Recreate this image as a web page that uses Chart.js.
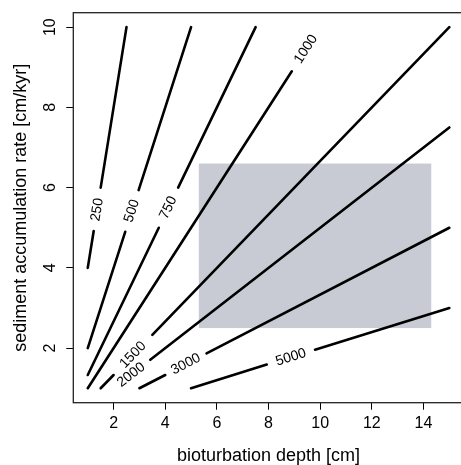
<!DOCTYPE html>
<html>
<head>
<meta charset="utf-8">
<script src="https://cdn.jsdelivr.net/npm/chart.js@4.4.1/dist/chart.umd.min.js"></script>
<style>
  html, body { margin: 0; padding: 0; background: #fff; overflow: hidden; }
</style>
</head>
<body>
<canvas id="contourChart" width="466" height="465"></canvas>
<script>
// axis ticks
var xTicks = [2, 4, 6, 8, 10, 12, 14];
var yTicks = [2, 4, 6, 8, 10];

// contour levels (yr); each line as [depth, rate] points, null = gap for label
var levels = [250, 500, 750, 1000, 1500, 2000, 3000, 5000];
var c250  = [[1.0, 4.0], [1.23, 4.92], null, [1.5, 6.0], [2.5, 10.0]];
var c500  = [[1.0, 2.0], [2.45, 4.9], null, [2.97, 5.94], [5.0, 10.0]];
var c750  = [[1.0, 1.33], [3.75, 5.0], null, [4.5, 6.0], [7.5, 10.0]];
var c1000 = [[1.0, 1.0], [8.9, 8.9]];
var c1500 = [[1.5, 1.0], [2.0, 1.33], null, [3.5, 2.33], [15.0, 10.0]];
var c2000 = [[3.42, 1.71], [15.0, 7.5]];
var c3000 = [[3.0, 1.0], [4.0, 1.33], null, [5.6, 1.87], [15.0, 5.0]];
var c5000 = [[5.0, 1.0], [7.93, 1.59], null, [9.8, 1.96], [15.0, 3.0]];
var contours = [c250, c500, c750, c1000, c1500, c2000, c3000, c5000];

// where the level labels sit on each line
var labelDepth = [1.37, 2.71, 4.12, 9.45, 2.75, 2.68, 4.8, 8.87];
var labelRate  = [5.45, 5.42, 5.5, 9.45, 1.83, 1.33, 1.6, 1.77];

// grey box
var boxDepth = [5.3, 14.3];
var boxRate  = [2.5, 6.6];

var FONT = "'Liberation Sans', Arial, Helvetica, sans-serif";

function buildDatasets(){
    var sets = [];
    contours.forEach(function(c){
        var cur = [];
        c.concat([null]).forEach(function(p){
            if (p === null) {
                if (cur.length) {
                    sets.push({
                        data: cur,
                        showLine: true,
                        borderColor: '#000',
                        borderWidth: 2.6,
                        borderCapStyle: 'round',
                        pointRadius: 0,
                        fill: false
                    });
                }
                cur = [];
            } else {
                cur.push({x: p[0], y: p[1]});
            }
        });
    });
    return sets;
}

var extras = {
    id: 'extras',
    beforeDatasetsDraw: function(chart){
        var ctx = chart.ctx, xs = chart.scales.x, ys = chart.scales.y;
        var x0 = xs.getPixelForValue(boxDepth[0]), x1 = xs.getPixelForValue(boxDepth[1]);
        var y0 = ys.getPixelForValue(boxRate[1]), y1 = ys.getPixelForValue(boxRate[0]);
        ctx.save();
        ctx.fillStyle = '#c8cbd3';
        ctx.fillRect(x0, y0, x1 - x0, y1 - y0);
        ctx.restore();
    },
    afterDraw: function(chart){
        var ctx = chart.ctx, xs = chart.scales.x, ys = chart.scales.y;
        var a = chart.chartArea;
        ctx.save();
        // contour labels, turned along their line
        ctx.fillStyle = '#000';
        ctx.font = '14px ' + FONT;
        ctx.textAlign = 'center';
        ctx.textBaseline = 'middle';
        contours.forEach(function(c, i){
            var p0 = c[0], p1 = c[c.length - 1];
            var ang = Math.atan2(ys.getPixelForValue(p1[1]) - ys.getPixelForValue(p0[1]),
                                 xs.getPixelForValue(p1[0]) - xs.getPixelForValue(p0[0]));
            var px = xs.getPixelForValue(labelDepth[i]), py = ys.getPixelForValue(labelRate[i]);
            ctx.save();
            ctx.translate(px, py);
            ctx.rotate(ang);
            ctx.fillText(String(levels[i]), 0, 0);
            ctx.restore();
        });
        // frame
        ctx.strokeStyle = '#222';
        ctx.lineWidth = 1.3;
        ctx.strokeRect(a.left, a.top, a.right - a.left, a.bottom - a.top);
        // y tick labels, rotated
        ctx.font = '16px ' + FONT;
        yTicks.forEach(function(v){
            ctx.save();
            ctx.translate(51, ys.getPixelForValue(v));
            ctx.rotate(-Math.PI / 2);
            ctx.fillText(String(v), 0, 0);
            ctx.restore();
        });
        ctx.restore();
    }
};

new Chart("contourChart", {
    type: 'scatter',
    data: { datasets: buildDatasets() },
    plugins: [extras],
    options: {
        responsive: false,
        animation: false,
        layout: { padding: { top: 12.7, right: 2.2, left: 0, bottom: 0 } },
        plugins: { legend: { display: false }, tooltip: { enabled: false } },
        scales: {
            x: {
                type: 'linear',
                min: 0.44,
                max: 15.56,
                afterBuildTicks: function(s){ s.ticks = xTicks.map(function(v){ return {value: v}; }); },
                afterFit: function(s){ s.height = 62.3; },
                ticks: { color: '#000', font: { size: 16, family: FONT }, padding: 4, maxRotation: 0, autoSkip: false },
                grid: { drawOnChartArea: false, drawTicks: true, tickLength: 7, color: '#000' },
                border: { display: false },
                title: { display: true, text: 'bioturbation depth [cm]', color: '#000',
                         font: { size: 18, family: FONT }, padding: { top: 0, bottom: -2 } }
            },
            y: {
                type: 'linear',
                min: 0.64,
                max: 10.36,
                afterBuildTicks: function(s){ s.ticks = yTicks.map(function(v){ return {value: v}; }); },
                afterFit: function(s){ s.width = 73.3; },
                ticks: { display: false },
                grid: { drawOnChartArea: false, drawTicks: true, tickLength: 7, color: '#000' },
                border: { display: false },
                title: { display: true, text: 'sediment accumulation rate [cm/kyr]', color: '#000',
                         font: { size: 18, family: FONT }, padding: { top: 10, bottom: 0 } }
            }
        }
    }
});
</script>
</body>
</html>
